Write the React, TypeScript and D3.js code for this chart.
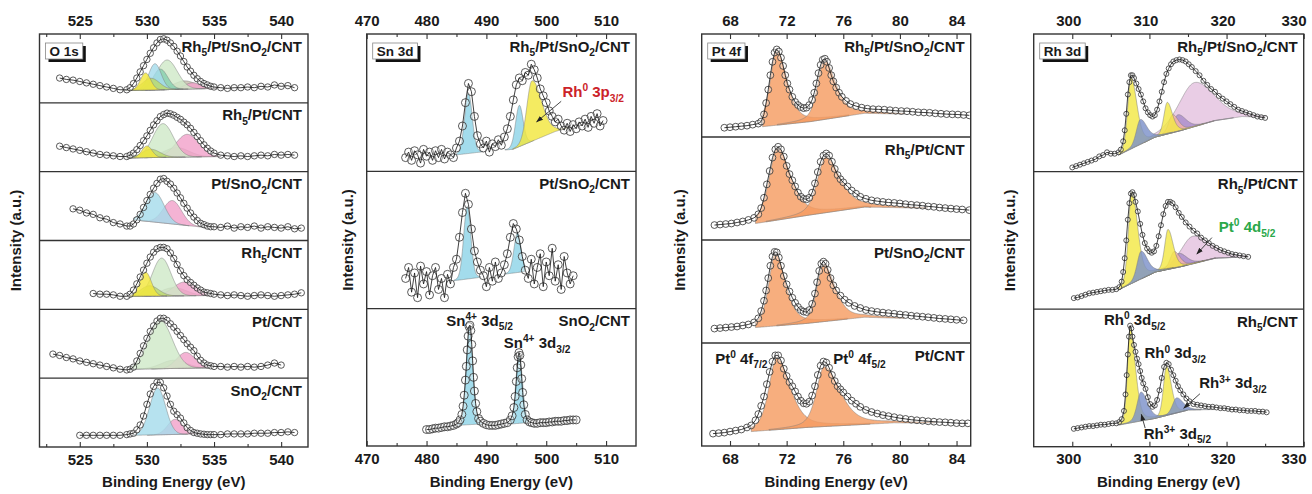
import * as d3 from "d3";
import { useEffect, useRef } from "react";

type P = [number, number];
type Peak = [number, number, number, number]; // centre, height, half-width left, half-width right

const grid = (e0: number, de: number, vals: number[]): P[] => vals.map((v, i) => [e0 + i * de, v]);

// ---------------- O 1s ----------------
const o1sMajors = [525, 530, 535, 540];
const o1sMinors = [522.5, 527.5, 532.5, 537.5];
const o1sLabels = ["Rh_{5}/Pt/SnO_{2}/CNT", "Rh_{5}/Pt/CNT", "Pt/SnO_{2}/CNT", "Rh_{5}/CNT", "Pt/CNT", "SnO_{2}/CNT"];

const o1sRhPtSn: P[] = [
  ...grid(523.5, 0.5, [0.36, 0.34, 0.33, 0.31, 0.29, 0.27, 0.25, 0.23, 0.21, 0.19, 0.19]),
  ...grid(528.75, 0.25, [0.22, 0.28, 0.36, 0.45, 0.54, 0.63, 0.72, 0.8, 0.87, 0.92, 0.93, 0.91, 0.87, 0.82, 0.75, 0.68, 0.6, 0.52, 0.46, 0.4, 0.35, 0.31, 0.28, 0.26, 0.24, 0.23]),
  ...grid(535.5, 0.5, [0.22, 0.21, 0.22, 0.22, 0.23, 0.22, 0.24, 0.23, 0.26, 0.24, 0.25, 0.22]),
];
const o1sRhPt: P[] = [
  ...grid(523.5, 0.5, [0.37, 0.35, 0.33, 0.31, 0.29, 0.27, 0.25, 0.24, 0.23, 0.22, 0.22]),
  ...grid(528.75, 0.25, [0.24, 0.27, 0.32, 0.38, 0.45, 0.52, 0.6, 0.68, 0.74, 0.8, 0.83, 0.85, 0.84, 0.82, 0.79, 0.76, 0.72, 0.68, 0.63, 0.57, 0.51, 0.45, 0.39, 0.34, 0.3, 0.27]),
  ...grid(535.5, 0.5, [0.24, 0.23, 0.22, 0.23, 0.22, 0.23, 0.24, 0.23, 0.25, 0.24, 0.25, 0.24]),
];
const o1sPtSn: P[] = [
  ...grid(524.5, 0.5, [0.46, 0.44, 0.4, 0.38, 0.33, 0.31, 0.26, 0.24, 0.21]),
  ...grid(528.75, 0.25, [0.21, 0.24, 0.3, 0.38, 0.48, 0.58, 0.67, 0.76, 0.83, 0.89, 0.9, 0.86, 0.82, 0.76, 0.69, 0.62, 0.54, 0.47, 0.4, 0.34, 0.29, 0.25, 0.23, 0.21, 0.2, 0.2]),
  ...grid(535.5, 0.5, [0.19, 0.21, 0.18, 0.2, 0.19, 0.21, 0.18, 0.2, 0.19, 0.18, 0.2, 0.17, 0.18]),
];
const o1sRh: P[] = [
  ...grid(526, 0.5, [0.23, 0.22, 0.22, 0.21, 0.19, 0.19]),
  ...grid(528.75, 0.25, [0.22, 0.28, 0.37, 0.47, 0.57, 0.67, 0.76, 0.83, 0.88, 0.9, 0.9, 0.88, 0.82, 0.74, 0.65, 0.56, 0.49, 0.43, 0.39, 0.35, 0.31, 0.28, 0.25, 0.24, 0.23, 0.22]),
  ...grid(535.5, 0.5, [0.21, 0.2, 0.21, 0.2, 0.19, 0.2, 0.21, 0.2, 0.19, 0.2, 0.21, 0.22, 0.24]),
];
const o1sPt: P[] = [
  ...grid(523, 0.5, [0.35, 0.33, 0.3, 0.28, 0.25, 0.23, 0.21, 0.19, 0.17, 0.15, 0.13, 0.12]),
  ...grid(528.75, 0.25, [0.13, 0.16, 0.25, 0.36, 0.47, 0.58, 0.68, 0.76, 0.83, 0.87, 0.87, 0.84, 0.79, 0.74, 0.68, 0.62, 0.56, 0.5, 0.45, 0.4, 0.32, 0.26, 0.22, 0.19, 0.18, 0.17]),
  ...grid(535.5, 0.5, [0.17, 0.16, 0.17, 0.16, 0.17, 0.16, 0.17, 0.19, 0.22, 0.19]),
];
const o1sSn: P[] = [
  ...grid(525, 0.5, [0.17, 0.17, 0.17, 0.17, 0.17, 0.17, 0.17, 0.18]),
  ...grid(528.75, 0.25, [0.19, 0.2, 0.25, 0.32, 0.45, 0.62, 0.77, 0.88, 0.94, 0.94, 0.86, 0.74, 0.62, 0.52, 0.47, 0.42, 0.35, 0.28, 0.24, 0.21, 0.2, 0.19, 0.185, 0.18, 0.18, 0.18]),
  ...grid(535.5, 0.5, [0.18, 0.19, 0.19, 0.19, 0.19, 0.2, 0.2, 0.2, 0.21, 0.21, 0.22, 0.21]),
];

const O_YEL = "#f3e63c", O_YG = "#bcd96a", O_BLUE = "#a6dcec", O_TEAL = "#86cfae";
const O_GREEN = "#d0e9c8", O_GRAY = "#c9bfae", O_PINK = "#f2a2ca";

const o1sRhPtSnPeaks: Peak[] = [[532.8, 0.12, 1.0, 1.0], [533.4, 0.09, 0.7, 0.7], [531.5, 0.43, 0.9, 0.9], [531.0, 0.3, 0.65, 0.65], [530.6, 0.38, 0.55, 0.55], [530.3, 0.17, 0.75, 0.75], [529.9, 0.25, 0.45, 0.45]];
const o1sRhPtSnColors = [O_GRAY, O_PINK, O_GREEN, O_TEAL, O_BLUE, O_YG, O_YEL];
const o1sRhPtSnBg: P[] = [[528.3, 0.18], [530, 0.185], [533, 0.2], [535.2, 0.21]];

const o1sRhPtPeaks: Peak[] = [[532.2, 0.14, 1.1, 1.1], [533.0, 0.33, 1.0, 1.0], [531.2, 0.49, 0.9, 0.9], [530.3, 0.12, 0.8, 0.8], [530.0, 0.17, 0.45, 0.45]];
const o1sRhPtColors = [O_GRAY, O_PINK, O_GREEN, O_YG, O_YEL];
const o1sRhPtBg: P[] = [[528.5, 0.2], [535.5, 0.22]];

const o1sPtSnPeaks: Peak[] = [[531.9, 0.34, 0.8, 0.8], [530.6, 0.43, 0.8, 0.8]];
const o1sPtSnColors = [O_PINK, O_BLUE];
const o1sPtSnBg: P[] = [[529, 0.3], [534.8, 0.18]];

const o1sRhPeaks: Peak[] = [[532.0, 0.12, 1.1, 1.1], [532.8, 0.2, 1.0, 1.0], [531.1, 0.55, 0.8, 0.8], [530.2, 0.15, 0.8, 0.8], [529.9, 0.35, 0.5, 0.5]];
const o1sRhColors = [O_GRAY, O_PINK, O_GREEN, O_YG, O_YEL];
const o1sRhBg: P[] = [[528.7, 0.19], [534.5, 0.2]];

const o1sPtPeaks: Peak[] = [[532.0, 0.12, 1.1, 1.1], [532.9, 0.23, 0.8, 0.8], [531.0, 0.7, 1.05, 1.05]];
const o1sPtColors = [O_GRAY, O_PINK, O_GREEN];
const o1sPtBg: P[] = [[528.8, 0.13], [534.5, 0.15]];

const o1sSnPeaks: Peak[] = [[532.1, 0.22, 0.65, 0.65], [530.8, 0.68, 0.7, 0.7]];
const o1sSnColors = [O_PINK, O_BLUE];
const o1sSnBg: P[] = [[529, 0.17], [534, 0.19]];

// ---------------- Sn 3d ----------------
const snMajors = [470, 480, 490, 500, 510];
const snMinors = [475, 485, 495, 505];
const snLabels = ["Rh_{5}/Pt/SnO_{2}/CNT", "Pt/SnO_{2}/CNT", "SnO_{2}/CNT"];

const snRhPtSn: P[] = grid(476.5, 0.5, [
  0.1, 0.14, 0.08, 0.15, 0.12, 0.06, 0.16, 0.11, 0.14, 0.08, 0.15, 0.1, 0.16, 0.09, 0.14, 0.12, 0.1, 0.17, 0.22, 0.33,
  0.5, 0.64, 0.58, 0.4, 0.26, 0.2, 0.17, 0.22, 0.14, 0.2, 0.18, 0.23, 0.19, 0.25, 0.31, 0.4, 0.52, 0.63, 0.68, 0.66,
  0.72, 0.7, 0.78, 0.74, 0.68, 0.6, 0.55, 0.5, 0.44, 0.4, 0.36, 0.38, 0.33, 0.3, 0.35, 0.29, 0.34, 0.31, 0.36, 0.33,
  0.38, 0.32, 0.4, 0.35, 0.42, 0.33, 0.37,
]);
const snPtSn: P[] = grid(476.5, 0.5, [
  0.22, 0.3, 0.12, 0.26, 0.08, 0.31, 0.18, 0.27, 0.1, 0.24, 0.3, 0.14, 0.22, 0.08, 0.25, 0.18, 0.3, 0.36, 0.52, 0.7,
  0.84, 0.76, 0.58, 0.42, 0.34, 0.28, 0.24, 0.16, 0.3, 0.2, 0.34, 0.22, 0.26, 0.32, 0.4, 0.52, 0.62, 0.58, 0.5, 0.38,
  0.28, 0.22, 0.36, 0.18, 0.3, 0.4, 0.16, 0.34, 0.24, 0.44, 0.2, 0.32, 0.14, 0.38, 0.26, 0.18, 0.24,
]);
const snSn: P[] = [
  [480, 0.12], [480.5, 0.12], [481, 0.125], [481.5, 0.13], [482, 0.13], [482.5, 0.135], [483, 0.14], [483.5, 0.14],
  [484, 0.145], [484.5, 0.15], [485, 0.16], [485.3, 0.17], [485.6, 0.19], [485.9, 0.23], [486.1, 0.29], [486.3, 0.37],
  [486.5, 0.48], [486.65, 0.58], [486.8, 0.7], [486.95, 0.8], [487.1, 0.87], [487.25, 0.88], [487.4, 0.84], [487.55, 0.74],
  [487.7, 0.62], [487.85, 0.5], [488, 0.4], [488.2, 0.31], [488.4, 0.25], [488.7, 0.2], [489, 0.18], [489.5, 0.165],
  [490, 0.155], [490.5, 0.15], [491, 0.15], [491.5, 0.15], [492, 0.155], [492.5, 0.16], [493, 0.165], [493.5, 0.17],
  [494, 0.19], [494.3, 0.22], [494.6, 0.28], [494.8, 0.36], [495, 0.47], [495.15, 0.57], [495.3, 0.65], [495.45, 0.68],
  [495.6, 0.66], [495.75, 0.59], [495.9, 0.49], [496.05, 0.39], [496.25, 0.3], [496.5, 0.23], [496.8, 0.19], [497.2, 0.175],
  [497.6, 0.17], [498, 0.165], [498.5, 0.165], [499, 0.17], [499.5, 0.17], [500, 0.17], [500.5, 0.175], [501, 0.175],
  [501.5, 0.18], [502, 0.18], [502.5, 0.18], [503, 0.185], [503.5, 0.185], [504, 0.19], [504.5, 0.19], [505, 0.19],
];

const SN_BLUE = "#8fd4e8", SN_YEL = "#f2e63e";
const snRhPtSnPeaks: Peak[] = [[487.0, 0.44, 0.75, 0.75], [495.5, 0.3, 0.75, 0.75], [497.6, 0.44, 1.0, 1.9]];
const snRhPtSnColors = [SN_BLUE, SN_BLUE, SN_YEL];
const snRhPtSnBg: P[] = [[485, 0.12], [489, 0.14], [494.4, 0.16], [501.5, 0.29], [505.5, 0.34]];
const snPtSnPeaks: Peak[] = [[486.8, 0.53, 0.7, 0.7], [495.2, 0.29, 0.7, 0.7]];
const snPtSnColors = [SN_BLUE, SN_BLUE];
const snPtSnBg: P[] = [[484, 0.2], [496.4, 0.27]];
const snSnPeaks: Peak[] = [[487.15, 0.72, 0.62, 0.68], [495.45, 0.51, 0.62, 0.68]];
const snSnColors = [SN_BLUE, SN_BLUE];
const snSnBg: P[] = [[485, 0.15], [489, 0.16], [494, 0.16], [497, 0.17]];

// ---------------- Pt 4f ----------------
const ptMajors = [68, 72, 76, 80, 84];
const ptMinors = [70, 74, 78, 82];
const ptLabels = ["Rh_{5}/Pt/SnO_{2}/CNT", "Rh_{5}/Pt/CNT", "Pt/SnO_{2}/CNT", "Pt/CNT"];

const ptRhPtSn: P[] = [
  [67.6, 0.09], [68, 0.095], [68.4, 0.1], [68.8, 0.105], [69.2, 0.11], [69.6, 0.12], [70, 0.13], [70.2, 0.15], [70.4, 0.22],
  [70.55, 0.33], [70.7, 0.46], [70.85, 0.6], [71, 0.73], [71.15, 0.82], [71.3, 0.85], [71.45, 0.83], [71.6, 0.77], [71.75, 0.69],
  [71.9, 0.6], [72.05, 0.52], [72.2, 0.46], [72.4, 0.39], [72.6, 0.34], [72.8, 0.31], [73, 0.29], [73.2, 0.28], [73.4, 0.285],
  [73.6, 0.31], [73.8, 0.36], [73.95, 0.43], [74.1, 0.52], [74.25, 0.62], [74.4, 0.7], [74.55, 0.75], [74.7, 0.76], [74.85, 0.73],
  [75, 0.67], [75.15, 0.6], [75.3, 0.54], [75.5, 0.48], [75.7, 0.43], [75.9, 0.39], [76.2, 0.35], [76.5, 0.32], [76.9, 0.3],
  [77.3, 0.285], [77.7, 0.275], [78.1, 0.27], [78.5, 0.268], [78.9, 0.265], [79.3, 0.26], [79.7, 0.255], [80.1, 0.252],
  [80.5, 0.25], [80.9, 0.245], [81.3, 0.24], [81.7, 0.238], [82.1, 0.235], [82.5, 0.23], [82.9, 0.226], [83.3, 0.222],
  [83.7, 0.22], [84.1, 0.218], [84.5, 0.214], [84.9, 0.21],
];
const ptRhPt: P[] = [
  [66.9, 0.145], [67.3, 0.15], [67.7, 0.155], [68.1, 0.16], [68.5, 0.17], [68.9, 0.18], [69.3, 0.195], [69.7, 0.215], [70, 0.25],
  [70.2, 0.31], [70.4, 0.41], [70.6, 0.54], [70.8, 0.67], [71, 0.8], [71.2, 0.88], [71.4, 0.905], [71.6, 0.88], [71.8, 0.81],
  [72, 0.72], [72.2, 0.64], [72.4, 0.58], [72.6, 0.52], [72.8, 0.46], [73, 0.42], [73.2, 0.4], [73.4, 0.395], [73.6, 0.41],
  [73.8, 0.46], [74, 0.55], [74.2, 0.66], [74.4, 0.76], [74.6, 0.82], [74.8, 0.84], [75, 0.82], [75.2, 0.76], [75.4, 0.69],
  [75.6, 0.63], [75.8, 0.59], [76, 0.56], [76.3, 0.52], [76.6, 0.48], [76.9, 0.45], [77.2, 0.42], [77.6, 0.4], [78, 0.385],
  [78.4, 0.377], [78.8, 0.37], [79.2, 0.364], [79.6, 0.36], [80, 0.355], [80.4, 0.348], [80.8, 0.342], [81.2, 0.338],
  [81.6, 0.333], [82, 0.326], [82.4, 0.322], [82.8, 0.315], [83.2, 0.31], [83.6, 0.305], [84, 0.3], [84.4, 0.296], [84.9, 0.29],
];
const ptPtSn: P[] = [
  [66.9, 0.14], [67.3, 0.145], [67.7, 0.15], [68.1, 0.155], [68.5, 0.16], [68.9, 0.17], [69.3, 0.18], [69.7, 0.2], [70, 0.24],
  [70.2, 0.31], [70.4, 0.41], [70.55, 0.51], [70.7, 0.63], [70.85, 0.75], [71, 0.84], [71.15, 0.885], [71.3, 0.88], [71.45, 0.83],
  [71.6, 0.75], [71.8, 0.65], [72, 0.57], [72.2, 0.5], [72.4, 0.44], [72.6, 0.39], [72.8, 0.35], [73, 0.32], [73.2, 0.305],
  [73.4, 0.3], [73.6, 0.32], [73.8, 0.38], [74, 0.48], [74.15, 0.59], [74.3, 0.7], [74.45, 0.77], [74.6, 0.79], [74.75, 0.77],
  [74.9, 0.71], [75.1, 0.63], [75.3, 0.56], [75.5, 0.51], [75.8, 0.46], [76.1, 0.42], [76.4, 0.39], [76.8, 0.36], [77.2, 0.34],
  [77.6, 0.32], [78, 0.31], [78.4, 0.302], [78.8, 0.295], [79.2, 0.29], [79.6, 0.284], [80, 0.277], [80.4, 0.272], [80.8, 0.265],
  [81.2, 0.26], [81.6, 0.255], [82, 0.25], [82.4, 0.244], [82.8, 0.238], [83.2, 0.234], [83.6, 0.23], [84, 0.225], [84.5, 0.22],
];
const ptPt: P[] = [
  [66.8, 0.12], [67.2, 0.125], [67.6, 0.13], [68, 0.14], [68.4, 0.15], [68.8, 0.16], [69.2, 0.18], [69.5, 0.2], [69.8, 0.25],
  [70, 0.31], [70.2, 0.39], [70.4, 0.48], [70.6, 0.6], [70.8, 0.72], [71, 0.82], [71.2, 0.88], [71.4, 0.88], [71.6, 0.83],
  [71.8, 0.75], [72, 0.68], [72.2, 0.62], [72.4, 0.58], [72.6, 0.53], [72.8, 0.48], [73, 0.44], [73.2, 0.415], [73.4, 0.41],
  [73.6, 0.43], [73.8, 0.49], [74, 0.58], [74.2, 0.69], [74.4, 0.78], [74.6, 0.82], [74.8, 0.81], [75, 0.76], [75.2, 0.69],
  [75.4, 0.63], [75.6, 0.58], [75.8, 0.55], [76, 0.52], [76.3, 0.48], [76.6, 0.44], [76.9, 0.41], [77.2, 0.38], [77.6, 0.35],
  [78, 0.33], [78.4, 0.315], [78.8, 0.3], [79.2, 0.29], [79.6, 0.28], [80, 0.27], [80.4, 0.263], [80.8, 0.255], [81.2, 0.25],
  [81.6, 0.245], [82, 0.24], [82.4, 0.236], [82.8, 0.232], [83.2, 0.23], [83.6, 0.226], [84, 0.222], [84.4, 0.22], [84.8, 0.22],
];

const PT_ORANGE = "#f59c62";
const ptRhPtSnPeaks: Peak[] = [[71.3, 0.73, 0.55, 0.85], [74.65, 0.58, 0.55, 0.95]];
const ptRhPtSnBg: P[] = [[70.3, 0.1], [73.7, 0.15], [77.5, 0.23], [85, 0.21]];
const ptRhPtPeaks: Peak[] = [[71.35, 0.7, 0.7, 1.1], [74.75, 0.54, 0.7, 1.2]];
const ptRhPtBg: P[] = [[69.8, 0.16], [73.5, 0.24], [77.5, 0.32], [85, 0.3]];
const ptPtSnPeaks: Peak[] = [[71.2, 0.7, 0.55, 0.85], [74.6, 0.56, 0.55, 0.95]];
const ptPtSnBg: P[] = [[69.8, 0.15], [73.4, 0.19], [77.5, 0.25], [85, 0.22]];
const ptPtPeaks: Peak[] = [[71.3, 0.7, 0.65, 1.1], [74.65, 0.58, 0.65, 1.3]];
const ptPtBg: P[] = [[69.5, 0.14], [73.4, 0.18], [79.6, 0.225], [85, 0.22]];
const ptColors = [PT_ORANGE, PT_ORANGE];

// ---------------- Rh 3d ----------------
const rhMajors = [300, 310, 320, 330];
const rhMinors = [305, 315, 325];
const rhLabels = ["Rh_{5}/Pt/SnO_{2}/CNT", "Rh_{5}/Pt/CNT", "Rh_{5}/CNT"];

const rhRhPtSn: P[] = [
  [300, 0.03], [300.5, 0.04], [301, 0.05], [301.5, 0.06], [302, 0.07], [302.5, 0.08], [303, 0.09], [303.5, 0.11], [304, 0.12],
  [304.5, 0.14], [305, 0.13], [305.5, 0.13], [306, 0.14], [306.3, 0.16], [306.6, 0.22], [306.8, 0.3], [307, 0.42], [307.2, 0.56],
  [307.4, 0.65], [307.6, 0.7], [307.8, 0.7], [308, 0.68], [308.3, 0.64], [308.6, 0.6], [308.9, 0.56], [309.2, 0.51], [309.5, 0.46],
  [309.8, 0.43], [310.1, 0.41], [310.4, 0.4], [310.7, 0.41], [311, 0.45], [311.3, 0.51], [311.6, 0.58], [311.9, 0.65], [312.2, 0.71],
  [312.5, 0.75], [312.8, 0.78], [313.1, 0.8], [313.5, 0.81], [313.9, 0.815], [314.3, 0.81], [314.7, 0.8], [315.1, 0.78],
  [315.5, 0.76], [316, 0.73], [316.5, 0.7], [317, 0.66], [317.5, 0.63], [318, 0.6], [318.5, 0.58], [319, 0.55], [319.5, 0.53],
  [320, 0.51], [320.5, 0.49], [321, 0.47], [321.5, 0.45], [322, 0.44], [322.5, 0.43], [323, 0.42], [323.5, 0.41], [324, 0.4],
  [324.5, 0.395], [325, 0.39],
];
const rhRhPt: P[] = [
  [300.2, 0.08], [300.7, 0.085], [301.2, 0.095], [301.7, 0.105], [302.2, 0.115], [302.7, 0.12], [303.2, 0.125], [303.7, 0.13],
  [304.2, 0.135], [304.7, 0.14], [305.2, 0.14], [305.7, 0.145], [306.1, 0.16], [306.4, 0.2], [306.6, 0.27], [306.8, 0.37],
  [307, 0.5], [307.2, 0.65], [307.4, 0.77], [307.6, 0.84], [307.8, 0.85], [308, 0.83], [308.2, 0.78], [308.5, 0.71], [308.8, 0.62],
  [309.1, 0.54], [309.4, 0.48], [309.7, 0.44], [310, 0.42], [310.3, 0.41], [310.6, 0.42], [310.9, 0.46], [311.2, 0.53], [311.5, 0.61],
  [311.8, 0.69], [312.1, 0.75], [312.4, 0.78], [312.7, 0.78], [313, 0.77], [313.4, 0.74], [313.8, 0.7], [314.2, 0.67], [314.7, 0.63],
  [315.2, 0.6], [315.7, 0.57], [316.2, 0.55], [316.7, 0.52], [317.2, 0.5], [317.7, 0.48], [318.2, 0.46], [318.7, 0.445],
  [319.2, 0.43], [319.7, 0.42], [320.2, 0.41], [320.7, 0.4], [321.2, 0.395], [321.7, 0.39], [322.2, 0.385], [322.8, 0.38],
];
const rhRh: P[] = [
  [300.2, 0.13], [300.7, 0.135], [301.2, 0.14], [301.7, 0.145], [302.2, 0.15], [302.7, 0.15], [303.2, 0.155], [303.7, 0.16],
  [304.2, 0.16], [304.7, 0.165], [305.2, 0.17], [305.7, 0.17], [306.1, 0.18], [306.4, 0.2], [306.7, 0.26], [306.9, 0.38],
  [307.05, 0.52], [307.2, 0.67], [307.35, 0.8], [307.5, 0.88], [307.65, 0.86], [307.8, 0.8], [308, 0.74], [308.2, 0.69],
  [308.4, 0.64], [308.6, 0.6], [308.8, 0.55], [309, 0.5], [309.2, 0.46], [309.5, 0.42], [309.8, 0.36], [310.1, 0.31], [310.4, 0.29],
  [310.7, 0.3], [311, 0.34], [311.3, 0.41], [311.6, 0.5], [311.9, 0.58], [312.2, 0.61], [312.5, 0.6], [312.8, 0.56], [313.1, 0.52],
  [313.4, 0.48], [313.7, 0.44], [314, 0.41], [314.4, 0.38], [314.8, 0.35], [315.2, 0.33], [315.7, 0.31], [316.2, 0.305],
  [316.7, 0.3], [317.2, 0.295], [317.7, 0.29], [318.2, 0.29], [318.7, 0.285], [319.2, 0.28], [319.7, 0.28], [320.2, 0.275],
  [320.7, 0.27], [321.2, 0.27], [321.7, 0.265], [322.2, 0.265], [322.7, 0.26], [323.2, 0.26], [323.7, 0.26], [324.2, 0.255],
  [324.7, 0.255], [325.2, 0.25],
];

const RH_YEL = "#f3e845", RH_BLUE = "#7d91c9", RH_PEACH = "#f5b4a6", RH_PURP = "#a98cc9", RH_LAV = "#e4c2df";
const rhRhPtSnPeaks: Peak[] = [[315.8, 0.32, 2.4, 3.0], [313.7, 0.12, 0.8, 1.2], [313.0, 0.13, 0.6, 0.9], [312.3, 0.23, 0.5, 0.8], [307.6, 0.52, 0.5, 0.9], [308.8, 0.18, 0.6, 1.0]];
const rhRhPtSnColors = [RH_LAV, RH_PURP, RH_PEACH, RH_YEL, RH_YEL, RH_BLUE];
const rhRhPtSnBg: P[] = [[306, 0.12], [310.7, 0.25], [314.2, 0.3], [318.5, 0.37], [322, 0.4], [325, 0.395]];
const rhRhPtPeaks: Peak[] = [[315.6, 0.2, 1.8, 2.6], [313.8, 0.1, 0.8, 1.2], [313.2, 0.12, 0.6, 0.9], [312.4, 0.29, 0.5, 0.8], [307.7, 0.67, 0.5, 0.9], [308.9, 0.2, 0.6, 1.0]];
const rhRhPtColors = [RH_LAV, RH_PURP, RH_PEACH, RH_YEL, RH_YEL, RH_BLUE];
const rhRhPtBg: P[] = [[306, 0.14], [310.75, 0.27], [314.2, 0.31], [318.5, 0.37], [322.8, 0.38]];
const rhRhPeaks: Peak[] = [[312.2, 0.36, 0.45, 0.75], [313.5, 0.11, 0.6, 1.0], [307.5, 0.69, 0.4, 0.8], [308.9, 0.21, 0.6, 1.0]];
const rhRhColors = [RH_YEL, RH_BLUE, RH_YEL, RH_BLUE];
const rhRhBg: P[] = [[306, 0.157], [310.75, 0.206], [315.1, 0.267], [318.5, 0.27]];

// ---------------- annotations (data coordinates) ----------------
type Note = { panel: number; sub: number; text: string; e: number; v: number; color: string; arrow?: [number, number, number, number] };
const notes: Note[] = [
  { panel: 1, sub: 0, text: "Rh^{0} 3p_{3/2}", e: 502.7, v: 0.54, color: "#cc2229", arrow: [502.5, 0.51, 498.4, 0.36] },
  { panel: 1, sub: 2, text: "Sn^{4+} 3d_{5/2}", e: 483.3, v: 0.876, color: "#1a1a1a" },
  { panel: 1, sub: 2, text: "Sn^{4+} 3d_{3/2}", e: 492.9, v: 0.713, color: "#1a1a1a" },
  { panel: 2, sub: 3, text: "Pt^{0} 4f_{7/2}", e: 66.95, v: 0.8, color: "#1a1a1a" },
  { panel: 2, sub: 3, text: "Pt^{0} 4f_{5/2}", e: 75.3, v: 0.8, color: "#1a1a1a" },
  { panel: 3, sub: 1, text: "Pt^{0} 4d_{5/2}", e: 319.0, v: 0.56, color: "#2aa84a", arrow: [318.1, 0.52, 316.15, 0.4] },
  { panel: 3, sub: 2, text: "Rh^{0} 3d_{5/2}", e: 304.1, v: 0.884, color: "#1a1a1a" },
  { panel: 3, sub: 2, text: "Rh^{0} 3d_{3/2}", e: 309.35, v: 0.642, color: "#1a1a1a" },
  { panel: 3, sub: 2, text: "Rh^{3+} 3d_{3/2}", e: 316.45, v: 0.424, color: "#1a1a1a", arrow: [316.55, 0.385, 314.45, 0.28] },
  { panel: 3, sub: 2, text: "Rh^{3+} 3d_{5/2}", e: 309.25, v: 0.056, color: "#1a1a1a", arrow: [309.45, 0.135, 308.95, 0.235] },
];

type Sub = { label: string; data: P[]; bg: P[]; peaks: Peak[]; colors: string[] };
type Panel = {
  tag: string; left: number; right: number; top: number; bottom: number; domain: [number, number];
  majors: number[]; minors: number[]; ylabelX: number; r: number; mix: number; labelDx: number; subs: Sub[];
};

const panels: Panel[] = [
  {
    tag: "O 1s", left: 39.5, right: 308, top: 34, bottom: 447, domain: [522, 542], majors: o1sMajors, minors: o1sMinors,
    ylabelX: 21, r: 3.2, mix: 0, labelDx: 0,
    subs: [
      { label: o1sLabels[0], data: o1sRhPtSn, bg: o1sRhPtSnBg, peaks: o1sRhPtSnPeaks, colors: o1sRhPtSnColors },
      { label: o1sLabels[1], data: o1sRhPt, bg: o1sRhPtBg, peaks: o1sRhPtPeaks, colors: o1sRhPtColors },
      { label: o1sLabels[2], data: o1sPtSn, bg: o1sPtSnBg, peaks: o1sPtSnPeaks, colors: o1sPtSnColors },
      { label: o1sLabels[3], data: o1sRh, bg: o1sRhBg, peaks: o1sRhPeaks, colors: o1sRhColors },
      { label: o1sLabels[4], data: o1sPt, bg: o1sPtBg, peaks: o1sPtPeaks, colors: o1sPtColors },
      { label: o1sLabels[5], data: o1sSn, bg: o1sSnBg, peaks: o1sSnPeaks, colors: o1sSnColors },
    ],
  },
  {
    tag: "Sn 3d", left: 366.7, right: 636, top: 34, bottom: 446, domain: [470, 515], majors: snMajors, minors: snMinors,
    ylabelX: 353, r: 4, mix: 0.1, labelDx: 0,
    subs: [
      { label: snLabels[0], data: snRhPtSn, bg: snRhPtSnBg, peaks: snRhPtSnPeaks, colors: snRhPtSnColors },
      { label: snLabels[1], data: snPtSn, bg: snPtSnBg, peaks: snPtSnPeaks, colors: snPtSnColors },
      { label: snLabels[2], data: snSn, bg: snSnBg, peaks: snSnPeaks, colors: snSnColors },
    ],
  },
  {
    tag: "Pt 4f", left: 701.7, right: 970.7, top: 34, bottom: 446, domain: [66, 85], majors: ptMajors, minors: ptMinors,
    ylabelX: 685, r: 3.4, mix: 0.5, labelDx: 0,
    subs: [
      { label: ptLabels[0], data: ptRhPtSn, bg: ptRhPtSnBg, peaks: ptRhPtSnPeaks, colors: ptColors },
      { label: ptLabels[1], data: ptRhPt, bg: ptRhPtBg, peaks: ptRhPtPeaks, colors: ptColors },
      { label: ptLabels[2], data: ptPtSn, bg: ptPtSnBg, peaks: ptPtSnPeaks, colors: ptColors },
      { label: ptLabels[3], data: ptPt, bg: ptPtBg, peaks: ptPtPeaks, colors: ptColors },
    ],
  },
  {
    tag: "Rh 3d", left: 1033.7, right: 1303.7, top: 34, bottom: 446.7, domain: [295, 330], majors: rhMajors, minors: rhMinors,
    ylabelX: 1015, r: 2.5, mix: 0.3, labelDx: -4,
    subs: [
      { label: rhLabels[0], data: rhRhPtSn, bg: rhRhPtSnBg, peaks: rhRhPtSnPeaks, colors: rhRhPtSnColors },
      { label: rhLabels[1], data: rhRhPt, bg: rhRhPtBg, peaks: rhRhPtPeaks, colors: rhRhPtColors },
      { label: rhLabels[2], data: rhRh, bg: rhRhBg, peaks: rhRhPeaks, colors: rhRhColors },
    ],
  },
];

const FONT = "'Liberation Sans', Arial, Helvetica, sans-serif";
const INK = "#1a1a1a";
const W = 1312;

// pseudo-Voigt with separate half widths on each side
function shape(pk: Peak, e: number, mix: number) {
  const [c, a, hl, hr] = pk;
  const u = (e - c) / (e < c ? hl : hr);
  return a * (mix / (1 + u * u) + (1 - mix) * Math.exp(-Math.LN2 * u * u));
}

// text with _{sub} and ^{sup} parts
function richText(t: d3.Selection<SVGTextElement, unknown, null, undefined>, s: string, size: number) {
  let shift = 0;
  s.split(/([_^]\{[^}]*\})/).filter(Boolean).forEach((tok) => {
    let target = 0;
    let body = tok;
    let small = false;
    if (tok.startsWith("_{")) { target = size * 0.3; body = tok.slice(2, -1); small = true; }
    else if (tok.startsWith("^{")) { target = -size * 0.38; body = tok.slice(2, -1); small = true; }
    const span = t.append("tspan").attr("dy", target - shift).text(body);
    if (small) span.attr("font-size", size * 0.68);
    shift = target;
  });
}

export default function App() {
  const ref = useRef<SVGSVGElement | null>(null);

  useEffect(() => {
    if (!ref.current) return;
    const svg = d3.select(ref.current);
    svg.selectAll("*").remove();
    svg.append("rect").attr("width", 1312).attr("height", 494).attr("fill", "#fff");

    const defs = svg.append("defs");
    defs.append("marker").attr("id", "arr").attr("viewBox", "0 0 10 10").attr("refX", 9).attr("refY", 5)
      .attr("markerWidth", 7).attr("markerHeight", 7).attr("markerUnits", "userSpaceOnUse").attr("orient", "auto")
      .append("path").attr("d", "M0,1.5L10,5L0,8.5z").attr("fill", "#222");

    const scales: { x: d3.ScaleLinear<number, number>; ys: d3.ScaleLinear<number, number>[] }[] = [];

    panels.forEach((p, pi) => {
      const x = d3.scaleLinear().domain(p.domain).range([p.left, p.right]);
      const h = (p.bottom - p.top) / p.subs.length;
      const ys: d3.ScaleLinear<number, number>[] = [];
      const g = svg.append("g");

      p.subs.forEach((s, si) => {
        const top = p.top + si * h;
        const y = d3.scaleLinear().domain([0, 1]).range([top + h, top]);
        ys.push(y);
        const cid = `clip-${pi}-${si}`;
        defs.append("clipPath").attr("id", cid).append("rect")
          .attr("x", p.left).attr("y", top).attr("width", p.right - p.left).attr("height", h);
        const sg = g.append("g").attr("clip-path", `url(#${cid})`);

        const bg = d3.scaleLinear().domain(s.bg.map((d) => d[0])).range(s.bg.map((d) => d[1])).clamp(true);
        const [eMin, eMax] = d3.extent(s.data, (d) => d[0]) as [number, number];
        const bgLo = s.bg[0][0], bgHi = s.bg[s.bg.length - 1][0];
        const reach = p.mix > 0.2 ? 6 : 3.2;

        s.peaks.forEach((pk, k) => {
          const lo = Math.max(eMin, bgLo, pk[0] - reach * pk[2]);
          const hi = Math.min(eMax, bgHi, pk[0] + reach * pk[3]);
          const es = d3.range(lo, hi, 0.02).concat([hi]);
          const area = d3.area<number>()
            .x((e) => x(e))
            .y0((e) => y(bg(e)))
            .y1((e) => y(bg(e) + shape(pk, e, p.mix)));
          sg.append("path").datum(es).attr("d", area)
            .attr("fill", s.colors[k]).attr("fill-opacity", 0.82)
            .attr("stroke", "#7a7a7a").attr("stroke-width", 0.5);
        });

        sg.append("g").selectAll("circle").data(s.data).join("circle")
          .attr("cx", (d) => x(d[0])).attr("cy", (d) => y(d[1])).attr("r", p.r)
          .attr("fill", "#fff").attr("fill-opacity", 0.35)
          .attr("stroke", "#3c3c3c").attr("stroke-width", 0.85);

        const line = d3.line<P>().x((d) => x(d[0])).y((d) => y(d[1]));
        sg.append("path").datum(s.data).attr("d", line)
          .attr("fill", "none").attr("stroke", "#111").attr("stroke-width", 0.8);

        const lab = g.append("text").attr("x", p.right - 6).attr("y", top + 17.5)
          .attr("text-anchor", "end").attr("font-family", FONT).attr("font-weight", "bold")
          .attr("font-size", 15).attr("fill", INK);
        richText(lab, s.label, 15);

        if (si > 0) {
          g.append("line").attr("x1", p.left).attr("x2", p.right).attr("y1", top).attr("y2", top)
            .attr("stroke", "#333").attr("stroke-width", 1.3);
        }
      });
      scales.push({ x, ys });

      g.append("rect").attr("x", p.left).attr("y", p.top).attr("width", p.right - p.left)
        .attr("height", p.bottom - p.top).attr("fill", "none").attr("stroke", "#333").attr("stroke-width", 1.4);

      const styleAxis = (ax: d3.Selection<SVGGElement, unknown, null, undefined>) => {
        ax.select(".domain").remove();
        ax.selectAll("line").attr("stroke", "#333").attr("stroke-width", 1.1);
        ax.selectAll<SVGTextElement, number>("text")
          .attr("font-family", FONT).attr("font-weight", "bold").attr("font-size", 15).attr("fill", INK)
          .attr("dx", p.labelDx)
          .attr("text-anchor", (d) => (x(d) + 13 > W ? "end" : "middle"))
          .attr("x", (d) => (x(d) + 13 > W ? W - 2 - x(d) : 0));
      };
      styleAxis(svg.append("g").attr("transform", `translate(0,${p.bottom})`)
        .call(d3.axisBottom(x).tickValues(p.majors).tickSize(-5).tickSizeOuter(0).tickPadding(7)));
      styleAxis(svg.append("g").attr("transform", `translate(0,${p.top})`)
        .call(d3.axisTop(x).tickValues(p.majors).tickSize(-5).tickSizeOuter(0).tickPadding(8)));
      styleAxis(svg.append("g").attr("transform", `translate(0,${p.bottom})`)
        .call(d3.axisBottom(x).tickValues(p.minors).tickSize(-3).tickSizeOuter(0).tickFormat(() => "")));
      styleAxis(svg.append("g").attr("transform", `translate(0,${p.top})`)
        .call(d3.axisTop(x).tickValues(p.minors).tickSize(-3).tickSizeOuter(0).tickFormat(() => "")));

      svg.append("text").attr("x", (p.left + p.right) / 2).attr("y", 487).attr("text-anchor", "middle")
        .attr("font-family", FONT).attr("font-weight", "bold").attr("font-size", 15).attr("fill", INK)
        .text("Binding Energy (eV)");
      svg.append("text").attr("transform", `translate(${p.ylabelX},${(p.top + p.bottom) / 2}) rotate(-90)`)
        .attr("text-anchor", "middle").attr("font-family", FONT).attr("font-weight", "bold")
        .attr("font-size", 15).attr("fill", INK).text("Intensity (a.u.)");

      // panel tag with drop shadow
      const tg = svg.append("g");
      const bx = p.left + 6, by = p.top + 9, bh = 16;
      const tt = tg.append("text").attr("x", bx + 4).attr("y", by + 12.5).attr("font-family", FONT)
        .attr("font-weight", "bold").attr("font-size", 13.5).attr("fill", INK).text(p.tag);
      const bw = (tt.node()?.getComputedTextLength() ?? 30) + 8;
      tg.insert("rect", "text").attr("x", bx + 3).attr("y", by + 3).attr("width", bw).attr("height", bh).attr("fill", "#111");
      tg.insert("rect", "text").attr("x", bx).attr("y", by).attr("width", bw).attr("height", bh)
        .attr("fill", "#fff").attr("stroke", "#888").attr("stroke-width", 0.8);
    });

    notes.forEach((n) => {
      const { x, ys } = scales[n.panel];
      const y = ys[n.sub];
      if (n.arrow) {
        const [e1, v1, e2, v2] = n.arrow;
        svg.append("line").attr("x1", x(e1)).attr("y1", y(v1)).attr("x2", x(e2)).attr("y2", y(v2))
          .attr("stroke", "#333").attr("stroke-width", 0.9).attr("marker-end", "url(#arr)");
      }
      const t = svg.append("text").attr("x", x(n.e)).attr("y", y(n.v)).attr("font-family", FONT)
        .attr("font-weight", "bold").attr("font-size", 15).attr("fill", n.color);
      richText(t, n.text, 15);
    });
  }, []);

  return (
    <div style={{ position: "absolute", left: 0, top: 0, width: 1312, height: 494, background: "#fff" }}>
      <svg ref={ref} width={1312} height={494} style={{ display: "block" }} role="img" aria-label="XPS spectra" />
    </div>
  );
}
